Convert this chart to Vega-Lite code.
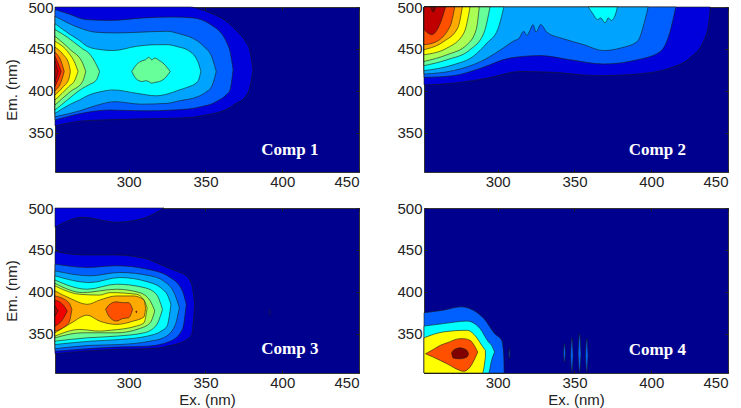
{
  "$schema": "https://vega.github.io/schema/vega-lite/v6.json",
  "background": "white",
  "padding": {"left": 4, "top": -1, "right": 0, "bottom": 0},
  "bounds": "flush",
  "columns": 2,
  "spacing": {"column": 65, "row": 36},
  "config": {
    "view": {"fill": "#00008F", "stroke": "#333333", "strokeWidth": 1},
    "font": "Liberation Sans",
    "axis": {
      "grid": false,
      "domain": false,
      "tickSize": -3,
      "tickColor": "#222222",
      "labelFont": "Liberation Sans",
      "labelFontSize": 15,
      "labelColor": "#222222",
      "titleFont": "Liberation Sans",
      "titleFontSize": 15,
      "titleFontWeight": "normal",
      "titleColor": "#222222"
    },
    "axisX": {"labelPadding": 5, "titlePadding": 2},
    "axisY": {"labelPadding": 5, "titlePadding": 8},
    "area": {"stroke": "#1a1a1a", "strokeWidth": 0.6, "clip": true, "opacity": 1, "interpolate": "monotone"},
    "text": {"font": "Liberation Serif", "fontWeight": "bold", "fontSize": 17, "fill": "white"}
  },
  "datasets": {
    "comp1": [
      {"r":"a","lv":1,"ex":252,"lo":358,"hi":500},{"r":"a","lv":1,"ex":270,"lo":364,"hi":500},{"r":"a","lv":1,"ex":300,"lo":366,"hi":500},{"r":"a","lv":1,"ex":340,"lo":368,"hi":500},{"r":"a","lv":1,"ex":347,"lo":370,"hi":497},{"r":"a","lv":1,"ex":353,"lo":372,"hi":493},{"r":"a","lv":1,"ex":360,"lo":375,"hi":487},{"r":"a","lv":1,"ex":365,"lo":379,"hi":481},{"r":"a","lv":1,"ex":370,"lo":385,"hi":472},{"r":"a","lv":1,"ex":376,"lo":393,"hi":459},{"r":"a","lv":1,"ex":379,"lo":405,"hi":447},{"r":"a","lv":1,"ex":381,"lo":425,"hi":425},
      {"r":"b","lv":2,"ex":252,"lo":365,"hi":497},{"r":"b","lv":2,"ex":262,"lo":370,"hi":491},{"r":"b","lv":2,"ex":272,"lo":374,"hi":485},{"r":"b","lv":2,"ex":288,"lo":377,"hi":484},{"r":"b","lv":2,"ex":310,"lo":376,"hi":487},{"r":"b","lv":2,"ex":329,"lo":377,"hi":488},{"r":"b","lv":2,"ex":342,"lo":379,"hi":487},{"r":"b","lv":2,"ex":347,"lo":381,"hi":485},{"r":"b","lv":2,"ex":355,"lo":385,"hi":477},{"r":"b","lv":2,"ex":358,"lo":388,"hi":473},{"r":"b","lv":2,"ex":364,"lo":396,"hi":457},{"r":"b","lv":2,"ex":366,"lo":401,"hi":447},{"r":"b","lv":2,"ex":368,"lo":425,"hi":425},
      {"r":"c","lv":3,"ex":252,"lo":369,"hi":489},{"r":"c","lv":3,"ex":268,"lo":376,"hi":475},{"r":"c","lv":3,"ex":278,"lo":382,"hi":470},{"r":"c","lv":3,"ex":291,"lo":387,"hi":469},{"r":"c","lv":3,"ex":308,"lo":384,"hi":470},{"r":"c","lv":3,"ex":325,"lo":385,"hi":471},{"r":"c","lv":3,"ex":333,"lo":388,"hi":468},{"r":"c","lv":3,"ex":345,"lo":393,"hi":459},{"r":"c","lv":3,"ex":350,"lo":398,"hi":451},{"r":"c","lv":3,"ex":354,"lo":405,"hi":441},{"r":"c","lv":3,"ex":357,"lo":423,"hi":423},
      {"r":"d","lv":4,"ex":252,"lo":373,"hi":480},{"r":"d","lv":4,"ex":262,"lo":384,"hi":467},{"r":"d","lv":4,"ex":268,"lo":389,"hi":460},{"r":"d","lv":4,"ex":273,"lo":394,"hi":453},{"r":"d","lv":4,"ex":282,"lo":399,"hi":449},{"r":"d","lv":4,"ex":290,"lo":401,"hi":448},{"r":"d","lv":4,"ex":305,"lo":397,"hi":453},{"r":"d","lv":4,"ex":318,"lo":394,"hi":455},{"r":"d","lv":4,"ex":325,"lo":396,"hi":455},{"r":"d","lv":4,"ex":333,"lo":401,"hi":452},{"r":"d","lv":4,"ex":338,"lo":404,"hi":449},{"r":"d","lv":4,"ex":345,"lo":411,"hi":435},{"r":"d","lv":4,"ex":347,"lo":423,"hi":423},
      {"r":"e","lv":5,"ex":252,"lo":377,"hi":473},{"r":"e","lv":5,"ex":260,"lo":389,"hi":464},{"r":"e","lv":5,"ex":270,"lo":403,"hi":450},{"r":"e","lv":5,"ex":274,"lo":407,"hi":445},{"r":"e","lv":5,"ex":279,"lo":413,"hi":431},{"r":"e","lv":5,"ex":281,"lo":423,"hi":423},
      {"r":"f","lv":5,"ex":302,"lo":423,"hi":423},{"r":"f","lv":5,"ex":305,"lo":414,"hi":431},{"r":"f","lv":5,"ex":309,"lo":411,"hi":436},{"r":"f","lv":5,"ex":311,"lo":412,"hi":437},{"r":"f","lv":5,"ex":313,"lo":411,"hi":440},{"r":"f","lv":5,"ex":315,"lo":409,"hi":437},{"r":"f","lv":5,"ex":317,"lo":410,"hi":439},{"r":"f","lv":5,"ex":320,"lo":411,"hi":436},{"r":"f","lv":5,"ex":323,"lo":414,"hi":432},{"r":"f","lv":5,"ex":327,"lo":423,"hi":423},
      {"r":"g","lv":6,"ex":252,"lo":383,"hi":465},{"r":"g","lv":6,"ex":262,"lo":399,"hi":449},{"r":"g","lv":6,"ex":270,"lo":411,"hi":433},{"r":"g","lv":6,"ex":272,"lo":423,"hi":423},
      {"r":"h","lv":7,"ex":252,"lo":389,"hi":459},{"r":"h","lv":7,"ex":261,"lo":405,"hi":445},{"r":"h","lv":7,"ex":265,"lo":413,"hi":433},{"r":"h","lv":7,"ex":267,"lo":423,"hi":423},
      {"r":"i","lv":8,"ex":252,"lo":395,"hi":452},{"r":"i","lv":8,"ex":257,"lo":404,"hi":444},{"r":"i","lv":8,"ex":261,"lo":414,"hi":432},{"r":"i","lv":8,"ex":262,"lo":423,"hi":423},
      {"r":"j","lv":9,"ex":252,"lo":400,"hi":446},{"r":"j","lv":9,"ex":256,"lo":411,"hi":435},{"r":"j","lv":9,"ex":258,"lo":423,"hi":423},
      {"r":"k","lv":10,"ex":252,"lo":405,"hi":441},{"r":"k","lv":10,"ex":254,"lo":413,"hi":433},{"r":"k","lv":10,"ex":256,"lo":423,"hi":423},
      {"r":"l","lv":11,"ex":252,"lo":410,"hi":436},{"r":"l","lv":11,"ex":254,"lo":423,"hi":423}
    ],
    "comp2": [
      {"r":"a","lv":1,"ex":252,"lo":407,"hi":500},{"r":"a","lv":1,"ex":271,"lo":409,"hi":500},{"r":"a","lv":1,"ex":293,"lo":415,"hi":500},{"r":"a","lv":1,"ex":315,"lo":423,"hi":500},{"r":"a","lv":1,"ex":336,"lo":422,"hi":500},{"r":"a","lv":1,"ex":365,"lo":418,"hi":500},{"r":"a","lv":1,"ex":391,"lo":420,"hi":500},{"r":"a","lv":1,"ex":412,"lo":427,"hi":500},{"r":"a","lv":1,"ex":425,"lo":439,"hi":500},{"r":"a","lv":1,"ex":434,"lo":459,"hi":500},{"r":"a","lv":1,"ex":437.5,"lo":481,"hi":500},{"r":"a","lv":1,"ex":438.5,"lo":500,"hi":500},
      {"r":"b","lv":2,"ex":252,"lo":416,"hi":500},{"r":"b","lv":2,"ex":271,"lo":418,"hi":500},{"r":"b","lv":2,"ex":289,"lo":427,"hi":500},{"r":"b","lv":2,"ex":308,"lo":439,"hi":500},{"r":"b","lv":2,"ex":328,"lo":442,"hi":500},{"r":"b","lv":2,"ex":347,"lo":437,"hi":500},{"r":"b","lv":2,"ex":369,"lo":432,"hi":500},{"r":"b","lv":2,"ex":391,"lo":437,"hi":500},{"r":"b","lv":2,"ex":406,"lo":447,"hi":500},{"r":"b","lv":2,"ex":412,"lo":469,"hi":500},{"r":"b","lv":2,"ex":416,"lo":500,"hi":500},
      {"r":"c","lv":3,"ex":252,"lo":420,"hi":500},{"r":"c","lv":3,"ex":271,"lo":424,"hi":500},{"r":"c","lv":3,"ex":289,"lo":435,"hi":500},{"r":"c","lv":3,"ex":302,"lo":449,"hi":500},{"r":"c","lv":3,"ex":310,"lo":459,"hi":500},{"r":"c","lv":3,"ex":314,"lo":463,"hi":500},{"r":"c","lv":3,"ex":317,"lo":471,"hi":500},{"r":"c","lv":3,"ex":319,"lo":466,"hi":500},{"r":"c","lv":3,"ex":321,"lo":472,"hi":500},{"r":"c","lv":3,"ex":323,"lo":479,"hi":500},{"r":"c","lv":3,"ex":325,"lo":470,"hi":500},{"r":"c","lv":3,"ex":328,"lo":479,"hi":500},{"r":"c","lv":3,"ex":332,"lo":470,"hi":500},{"r":"c","lv":3,"ex":343,"lo":462,"hi":500},{"r":"c","lv":3,"ex":356,"lo":455,"hi":500},{"r":"c","lv":3,"ex":369,"lo":448,"hi":500},{"r":"c","lv":3,"ex":380,"lo":451,"hi":500},{"r":"c","lv":3,"ex":391,"lo":459,"hi":500},{"r":"c","lv":3,"ex":396,"lo":485,"hi":500},{"r":"c","lv":3,"ex":398,"lo":500,"hi":500},
      {"r":"d","lv":4,"ex":252,"lo":424,"hi":500},{"r":"d","lv":4,"ex":271,"lo":431,"hi":500},{"r":"d","lv":4,"ex":284,"lo":441,"hi":500},{"r":"d","lv":4,"ex":293,"lo":457,"hi":500},{"r":"d","lv":4,"ex":300,"lo":473,"hi":500},{"r":"d","lv":4,"ex":304,"lo":500,"hi":500},
      {"r":"e","lv":4,"ex":359,"lo":500,"hi":500},{"r":"e","lv":4,"ex":362,"lo":492,"hi":500},{"r":"e","lv":4,"ex":365,"lo":485,"hi":500},{"r":"e","lv":4,"ex":367,"lo":487,"hi":500},{"r":"e","lv":4,"ex":370,"lo":481,"hi":500},{"r":"e","lv":4,"ex":372,"lo":487,"hi":500},{"r":"e","lv":4,"ex":374,"lo":484,"hi":500},{"r":"e","lv":4,"ex":377,"lo":493,"hi":500},{"r":"e","lv":4,"ex":378,"lo":500,"hi":500},
      {"r":"f","lv":5,"ex":252,"lo":430,"hi":500},{"r":"f","lv":5,"ex":267,"lo":437,"hi":500},{"r":"f","lv":5,"ex":282,"lo":449,"hi":500},{"r":"f","lv":5,"ex":291,"lo":469,"hi":500},{"r":"f","lv":5,"ex":295,"lo":500,"hi":500},
      {"r":"g","lv":6,"ex":252,"lo":435,"hi":500},{"r":"g","lv":6,"ex":267,"lo":443,"hi":500},{"r":"g","lv":6,"ex":280,"lo":455,"hi":500},{"r":"g","lv":6,"ex":286,"lo":473,"hi":500},{"r":"g","lv":6,"ex":288,"lo":500,"hi":500},
      {"r":"h","lv":7,"ex":252,"lo":443,"hi":500},{"r":"h","lv":7,"ex":267,"lo":451,"hi":500},{"r":"h","lv":7,"ex":278,"lo":469,"hi":500},{"r":"h","lv":7,"ex":282,"lo":500,"hi":500},
      {"r":"i","lv":8,"ex":252,"lo":449,"hi":500},{"r":"i","lv":8,"ex":265,"lo":459,"hi":500},{"r":"i","lv":8,"ex":274,"lo":475,"hi":500},{"r":"i","lv":8,"ex":277,"lo":500,"hi":500},
      {"r":"j","lv":9,"ex":252,"lo":455,"hi":500},{"r":"j","lv":9,"ex":258,"lo":457,"hi":500},{"r":"j","lv":9,"ex":269,"lo":477,"hi":500},{"r":"j","lv":9,"ex":272,"lo":500,"hi":500},
      {"r":"k","lv":11,"ex":252,"lo":473,"hi":500},{"r":"k","lv":11,"ex":257,"lo":467,"hi":500},{"r":"k","lv":11,"ex":263.5,"lo":485,"hi":500},{"r":"k","lv":11,"ex":266,"lo":500,"hi":500},
      {"r":"l","lv":12,"ex":256.5,"lo":500,"hi":500},{"r":"l","lv":12,"ex":258,"lo":494,"hi":500},{"r":"l","lv":12,"ex":259.5,"lo":500,"hi":500}
    ],
    "comp3": [
      {"r":"a","lv":1,"ex":252,"lo":477,"hi":500},{"r":"a","lv":1,"ex":270,"lo":489,"hi":500},{"r":"a","lv":1,"ex":292,"lo":483,"hi":500},{"r":"a","lv":1,"ex":310,"lo":488,"hi":500},{"r":"a","lv":1,"ex":323,"lo":500,"hi":500},
      {"r":"b","lv":1,"ex":252,"lo":326,"hi":448},{"r":"b","lv":1,"ex":270,"lo":329,"hi":444},{"r":"b","lv":1,"ex":290,"lo":331,"hi":444},{"r":"b","lv":1,"ex":310,"lo":332,"hi":440},{"r":"b","lv":1,"ex":320,"lo":333,"hi":433},{"r":"b","lv":1,"ex":325,"lo":335,"hi":429},{"r":"b","lv":1,"ex":333.5,"lo":339,"hi":423},{"r":"b","lv":1,"ex":336,"lo":341,"hi":421},{"r":"b","lv":1,"ex":341,"lo":349,"hi":409},{"r":"b","lv":1,"ex":343,"lo":385,"hi":385},
      {"r":"c","lv":2,"ex":252,"lo":329,"hi":433},{"r":"c","lv":2,"ex":273,"lo":332,"hi":429},{"r":"c","lv":2,"ex":292,"lo":334,"hi":431},{"r":"c","lv":2,"ex":312,"lo":335,"hi":427},{"r":"c","lv":2,"ex":327,"lo":341,"hi":417},{"r":"c","lv":2,"ex":335,"lo":355,"hi":401},{"r":"c","lv":2,"ex":337.5,"lo":385,"hi":385},
      {"r":"d","lv":3,"ex":252,"lo":332,"hi":425},{"r":"d","lv":3,"ex":275,"lo":336,"hi":419},{"r":"d","lv":3,"ex":294,"lo":337,"hi":423},{"r":"d","lv":3,"ex":314,"lo":341,"hi":419},{"r":"d","lv":3,"ex":322.6,"lo":345,"hi":413},{"r":"d","lv":3,"ex":330,"lo":359,"hi":397},{"r":"d","lv":3,"ex":333,"lo":381,"hi":381},
      {"r":"e","lv":4,"ex":252,"lo":337,"hi":419},{"r":"e","lv":4,"ex":275,"lo":341,"hi":411},{"r":"e","lv":4,"ex":294,"lo":343,"hi":417},{"r":"e","lv":4,"ex":312,"lo":347,"hi":412},{"r":"e","lv":4,"ex":322,"lo":354,"hi":403},{"r":"e","lv":4,"ex":325,"lo":359,"hi":397},{"r":"e","lv":4,"ex":327.5,"lo":385,"hi":385},
      {"r":"f","lv":5,"ex":252,"lo":341,"hi":414},{"r":"f","lv":5,"ex":273,"lo":345,"hi":403},{"r":"f","lv":5,"ex":292,"lo":347,"hi":409},{"r":"f","lv":5,"ex":310,"lo":351,"hi":405},{"r":"f","lv":5,"ex":318,"lo":360,"hi":397},{"r":"f","lv":5,"ex":322,"lo":379,"hi":379},
      {"r":"g","lv":6,"ex":252,"lo":345,"hi":410},{"r":"g","lv":6,"ex":270,"lo":351,"hi":399},{"r":"g","lv":6,"ex":292,"lo":351,"hi":403},{"r":"g","lv":6,"ex":307,"lo":356,"hi":399},{"r":"g","lv":6,"ex":314,"lo":363,"hi":389},{"r":"g","lv":6,"ex":317,"lo":377,"hi":377},
      {"r":"h","lv":7,"ex":252,"lo":347,"hi":407},{"r":"h","lv":7,"ex":268,"lo":355,"hi":397},{"r":"h","lv":7,"ex":281,"lo":353,"hi":396},{"r":"h","lv":7,"ex":288,"lo":354,"hi":399},{"r":"h","lv":7,"ex":305,"lo":359,"hi":397},{"r":"h","lv":7,"ex":310,"lo":363,"hi":390},{"r":"h","lv":7,"ex":312,"lo":381,"hi":381},
      {"r":"i","lv":8,"ex":252,"lo":351,"hi":401},{"r":"i","lv":8,"ex":262,"lo":362,"hi":392},{"r":"i","lv":8,"ex":273,"lo":372,"hi":385},{"r":"i","lv":8,"ex":281,"lo":365,"hi":390},{"r":"i","lv":8,"ex":292,"lo":361,"hi":395},{"r":"i","lv":8,"ex":303,"lo":365,"hi":395},{"r":"i","lv":8,"ex":310,"lo":370,"hi":390},{"r":"i","lv":8,"ex":311,"lo":380,"hi":380},
      {"r":"j","lv":9,"ex":252,"lo":353,"hi":395},{"r":"j","lv":9,"ex":261,"lo":363,"hi":387},{"r":"j","lv":9,"ex":263,"lo":379,"hi":379},
      {"r":"k","lv":9,"ex":285,"lo":379,"hi":379},{"r":"k","lv":9,"ex":287,"lo":371,"hi":384},{"r":"k","lv":9,"ex":292,"lo":365,"hi":388},{"r":"k","lv":9,"ex":296,"lo":368,"hi":387},{"r":"k","lv":9,"ex":300,"lo":369,"hi":387},{"r":"k","lv":9,"ex":302.6,"lo":379,"hi":379},
      {"r":"l","lv":10,"ex":252,"lo":359,"hi":390},{"r":"l","lv":10,"ex":257,"lo":367,"hi":385},{"r":"l","lv":10,"ex":260,"lo":377,"hi":377},
      {"r":"m","lv":10,"ex":304.5,"lo":376,"hi":376},{"r":"m","lv":10,"ex":305,"lo":375,"hi":377},{"r":"m","lv":10,"ex":305.5,"lo":376,"hi":376},
      {"r":"n","lv":11,"ex":252,"lo":371,"hi":383},{"r":"n","lv":11,"ex":254,"lo":377,"hi":377},
      {"r":"o","lv":1,"ex":391.5,"lo":375,"hi":375},{"r":"o","lv":1,"ex":392,"lo":372,"hi":379},{"r":"o","lv":1,"ex":392.5,"lo":375,"hi":375}
    ],
    "comp4": [
      {"r":"a","lv":2,"ex":252,"lo":303,"hi":375},{"r":"a","lv":2,"ex":264.6,"lo":303,"hi":378},{"r":"a","lv":2,"ex":276,"lo":303,"hi":382},{"r":"a","lv":2,"ex":284,"lo":303,"hi":378},{"r":"a","lv":2,"ex":291,"lo":303,"hi":368},{"r":"a","lv":2,"ex":298,"lo":303,"hi":350},{"r":"a","lv":2,"ex":302.6,"lo":303,"hi":342},{"r":"a","lv":2,"ex":304,"lo":303,"hi":322},{"r":"a","lv":2,"ex":304.2,"lo":303,"hi":303},
      {"r":"b","lv":4,"ex":252,"lo":303,"hi":359},{"r":"b","lv":4,"ex":264.6,"lo":303,"hi":362},{"r":"b","lv":4,"ex":280,"lo":303,"hi":365},{"r":"b","lv":4,"ex":288.5,"lo":303,"hi":356},{"r":"b","lv":4,"ex":294,"lo":303,"hi":340},{"r":"b","lv":4,"ex":296,"lo":318,"hi":336},{"r":"b","lv":4,"ex":298,"lo":328,"hi":328},
      {"r":"c","lv":7,"ex":252,"lo":303,"hi":345},{"r":"c","lv":7,"ex":264.6,"lo":303,"hi":352},{"r":"c","lv":7,"ex":280,"lo":303,"hi":354},{"r":"c","lv":7,"ex":286,"lo":303,"hi":346},{"r":"c","lv":7,"ex":290,"lo":303,"hi":335},{"r":"c","lv":7,"ex":292,"lo":322,"hi":330},
      {"r":"d","lv":9,"ex":253,"lo":326,"hi":326},{"r":"d","lv":9,"ex":258,"lo":322,"hi":331},{"r":"d","lv":9,"ex":262.6,"lo":318,"hi":336},{"r":"d","lv":9,"ex":267,"lo":314,"hi":339},{"r":"d","lv":9,"ex":275.5,"lo":306,"hi":344},{"r":"d","lv":9,"ex":277.6,"lo":305,"hi":344},{"r":"d","lv":9,"ex":282,"lo":310,"hi":342},{"r":"d","lv":9,"ex":284,"lo":316,"hi":338},{"r":"d","lv":9,"ex":287,"lo":328,"hi":328},
      {"r":"e","lv":12,"ex":270,"lo":327,"hi":327},{"r":"e","lv":12,"ex":271,"lo":321,"hi":330},{"r":"e","lv":12,"ex":275.5,"lo":320,"hi":333},{"r":"e","lv":12,"ex":280,"lo":322,"hi":330},{"r":"e","lv":12,"ex":281,"lo":326,"hi":326},
      {"r":"f","lv":2,"ex":307.2,"lo":326,"hi":326},{"r":"f","lv":2,"ex":307.6,"lo":320,"hi":332},{"r":"f","lv":2,"ex":308,"lo":326,"hi":326},
      {"r":"g","lv":2,"ex":342.8,"lo":327,"hi":327},{"r":"g","lv":2,"ex":343.5,"lo":316,"hi":338},{"r":"g","lv":2,"ex":344.2,"lo":327,"hi":327},
      {"r":"h","lv":2,"ex":347.4,"lo":324,"hi":324},{"r":"h","lv":2,"ex":348.3,"lo":304,"hi":345},{"r":"h","lv":2,"ex":349.2,"lo":324,"hi":324},
      {"r":"i","lv":2,"ex":352.3,"lo":326,"hi":326},{"r":"i","lv":2,"ex":353.3,"lo":304,"hi":350},{"r":"i","lv":2,"ex":354.3,"lo":326,"hi":326},
      {"r":"j","lv":2,"ex":357.1,"lo":324,"hi":324},{"r":"j","lv":2,"ex":358,"lo":304,"hi":344},{"r":"j","lv":2,"ex":358.9,"lo":324,"hi":324}
    ]
  },
  "concat": [
    {
      "width": 304, "height": 165,
      "layer": [
        {
          "data": {"name": "comp1"},
          "mark": {"type": "area"},
          "encoding": {
            "x": {"field": "ex", "type": "quantitative", "scale": {"domain": [252, 450], "nice": false, "zero": false}, "axis": {"values": [300, 350, 400, 450], "title": null}},
            "y": {"field": "lo", "type": "quantitative", "scale": {"domain": [303, 500], "nice": false, "zero": false}, "axis": {"values": [350, 400, 450, 500], "title": "Em. (nm)"}},
            "y2": {"field": "hi"},
            "detail": {"field": "r"},
            "fill": {"field": "lv", "type": "ordinal", "legend": null, "scale": {"domain": [1,2,3,4,5,6,7,8,9,10,11,12], "range": ["#0000DC","#0060FF","#00A4FF","#00FFFF","#66FF99","#AAFF55","#FFFF00","#FFAA00","#FF5000","#F00000","#C00000","#800000"]}}
          }
        },
        {
          "data": {"values": [{"label": "Comp 1"}]},
          "mark": {"type": "text"},
          "encoding": {
            "x": {"datum": 405, "type": "quantitative", "axis": {"orient": "top", "values": [300, 350, 400, 450], "labels": false, "title": null}},
            "y": {"datum": 329, "type": "quantitative", "axis": {"orient": "right", "values": [350, 400, 450, 500], "labels": false, "title": null}},
            "text": {"field": "label"}
          }
        }
      ],
      "resolve": {"axis": {"x": "independent", "y": "independent"}}
    },
    {
      "width": 304, "height": 165,
      "layer": [
        {
          "data": {"name": "comp2"},
          "mark": {"type": "area"},
          "encoding": {
            "x": {"field": "ex", "type": "quantitative", "scale": {"domain": [252, 450], "nice": false, "zero": false}, "axis": {"values": [300, 350, 400, 450], "title": null}},
            "y": {"field": "lo", "type": "quantitative", "scale": {"domain": [303, 500], "nice": false, "zero": false}, "axis": {"values": [350, 400, 450, 500], "title": null}},
            "y2": {"field": "hi"},
            "detail": {"field": "r"},
            "fill": {"field": "lv", "type": "ordinal", "legend": null, "scale": {"domain": [1,2,3,4,5,6,7,8,9,10,11,12], "range": ["#0000DC","#0060FF","#00A4FF","#00FFFF","#66FF99","#AAFF55","#FFFF00","#FFAA00","#FF5000","#F00000","#C00000","#800000"]}}
          }
        },
        {
          "data": {"values": [{"label": "Comp 2"}]},
          "mark": {"type": "text"},
          "encoding": {
            "x": {"datum": 404, "type": "quantitative", "axis": {"orient": "top", "values": [300, 350, 400, 450], "labels": false, "title": null}},
            "y": {"datum": 329, "type": "quantitative", "axis": {"orient": "right", "values": [350, 400, 450, 500], "labels": false, "title": null}},
            "text": {"field": "label"}
          }
        }
      ],
      "resolve": {"axis": {"x": "independent", "y": "independent"}}
    },
    {
      "width": 304, "height": 165,
      "layer": [
        {
          "data": {"name": "comp3"},
          "mark": {"type": "area"},
          "encoding": {
            "x": {"field": "ex", "type": "quantitative", "scale": {"domain": [252, 450], "nice": false, "zero": false}, "axis": {"values": [300, 350, 400, 450], "title": "Ex. (nm)"}},
            "y": {"field": "lo", "type": "quantitative", "scale": {"domain": [303, 500], "nice": false, "zero": false}, "axis": {"values": [350, 400, 450, 500], "title": "Em. (nm)"}},
            "y2": {"field": "hi"},
            "detail": {"field": "r"},
            "fill": {"field": "lv", "type": "ordinal", "legend": null, "scale": {"domain": [1,2,3,4,5,6,7,8,9,10,11,12], "range": ["#0000DC","#0060FF","#00A4FF","#00FFFF","#66FF99","#AAFF55","#FFFF00","#FFAA00","#FF5000","#F00000","#C00000","#800000"]}}
          }
        },
        {
          "data": {"values": [{"label": "Comp 3"}]},
          "mark": {"type": "text"},
          "encoding": {
            "x": {"datum": 405, "type": "quantitative", "axis": {"orient": "top", "values": [300, 350, 400, 450], "labels": false, "title": null}},
            "y": {"datum": 332, "type": "quantitative", "axis": {"orient": "right", "values": [350, 400, 450, 500], "labels": false, "title": null}},
            "text": {"field": "label"}
          }
        }
      ],
      "resolve": {"axis": {"x": "independent", "y": "independent"}}
    },
    {
      "width": 304, "height": 165,
      "layer": [
        {
          "data": {"name": "comp4"},
          "mark": {"type": "area"},
          "encoding": {
            "x": {"field": "ex", "type": "quantitative", "scale": {"domain": [252, 450], "nice": false, "zero": false}, "axis": {"values": [300, 350, 400, 450], "title": "Ex. (nm)"}},
            "y": {"field": "lo", "type": "quantitative", "scale": {"domain": [303, 500], "nice": false, "zero": false}, "axis": {"values": [350, 400, 450, 500], "title": null}},
            "y2": {"field": "hi"},
            "detail": {"field": "r"},
            "fill": {"field": "lv", "type": "ordinal", "legend": null, "scale": {"domain": [1,2,3,4,5,6,7,8,9,10,11,12], "range": ["#0000DC","#0060FF","#00A4FF","#00FFFF","#66FF99","#AAFF55","#FFFF00","#FFAA00","#FF5000","#F00000","#C00000","#800000"]}}
          }
        },
        {
          "data": {"values": [{"label": "Comp 4"}]},
          "mark": {"type": "text"},
          "encoding": {
            "x": {"datum": 404, "type": "quantitative", "axis": {"orient": "top", "values": [300, 350, 400, 450], "labels": false, "title": null}},
            "y": {"datum": 330, "type": "quantitative", "axis": {"orient": "right", "values": [350, 400, 450, 500], "labels": false, "title": null}},
            "text": {"field": "label"}
          }
        }
      ],
      "resolve": {"axis": {"x": "independent", "y": "independent"}}
    }
  ]
}
